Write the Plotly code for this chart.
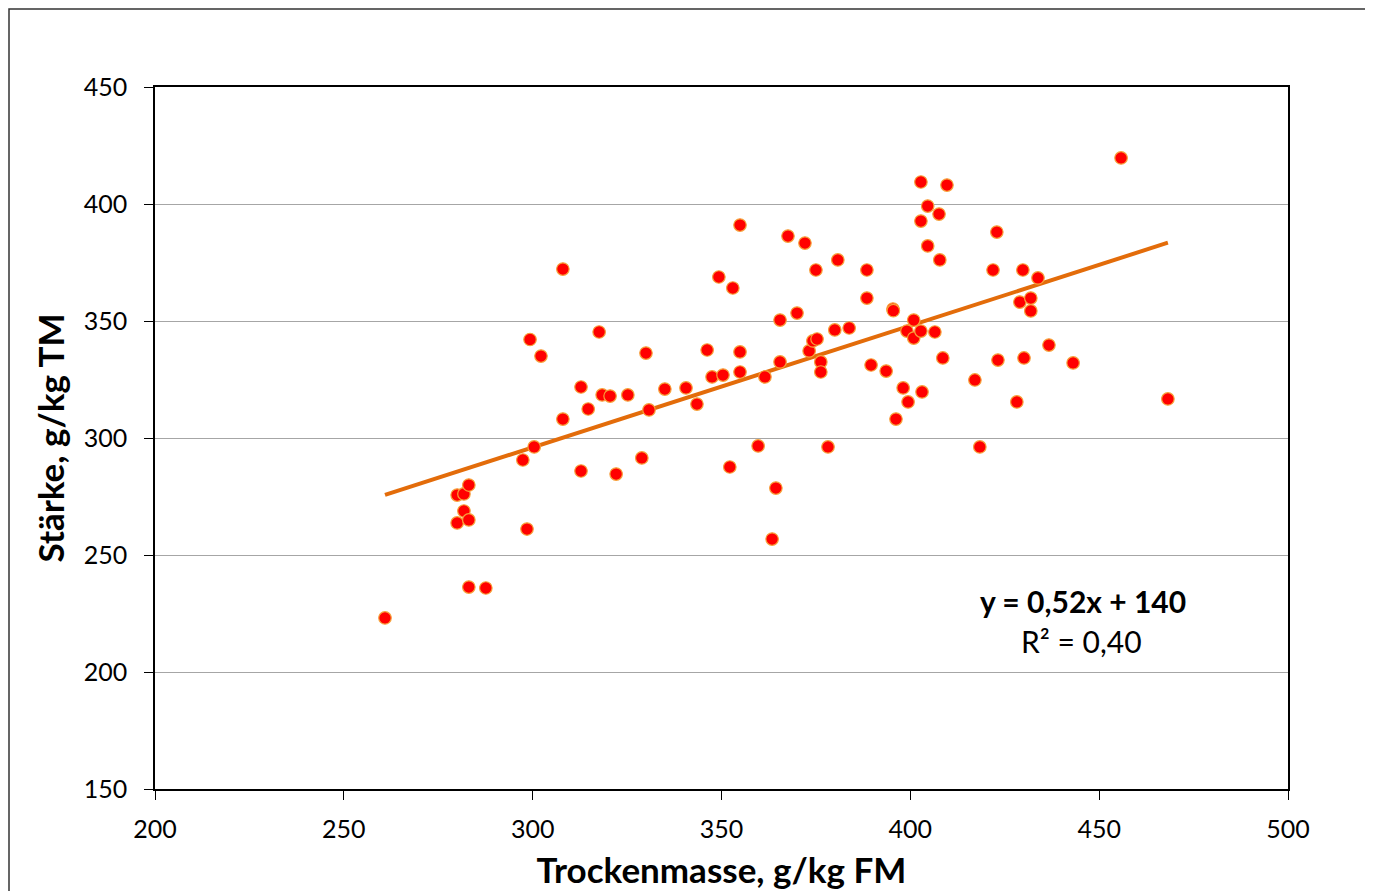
import plotly.graph_objects as go

# Trockenmasse (g/kg FM)
trockenmasse = [
    260.9, 280.0, 281.8, 283.1, 280.0, 281.8, 283.1, 283.1, 287.6, 297.4,
    298.5, 300.4, 299.3, 302.2, 308.0, 308.0, 312.8, 312.8, 314.7, 317.6,
    318.4, 320.5, 322.1, 325.2, 328.9, 330.0, 330.8, 335.0, 340.6, 343.5,
    346.2, 347.5, 349.3, 350.4, 352.2, 353.0, 354.9, 354.9, 354.9, 359.7,
    361.5, 363.4, 364.4, 365.5, 365.5, 367.6, 370.0, 372.1, 373.2, 374.2,
    375.0, 375.3, 376.3, 376.3, 378.2, 380.0, 380.8, 383.8, 388.5, 388.5,
    389.6, 393.6, 395.4, 395.5, 396.2, 398.1, 399.1, 399.4, 400.9, 400.9,
    402.8, 402.8, 402.8, 403.1, 404.6, 404.6, 406.5, 407.6, 407.8, 408.6,
    409.7, 417.1, 418.4, 421.9, 422.9, 423.2, 428.2, 429.0, 429.8, 430.1,
    431.9, 431.9, 433.8, 436.7, 443.1, 455.8, 468.2,
]
# Stärke (g/kg TM)
staerke = [
    223.1, 275.6, 276.1, 279.9, 263.7, 268.8, 265.0, 236.3, 235.9, 290.6,
    261.1, 296.2, 342.1, 335.0, 372.2, 308.1, 321.8, 285.9, 312.4, 345.3,
    318.4, 317.9, 284.6, 318.4, 291.5, 336.3, 312.0, 320.9, 321.4, 314.5,
    337.6, 326.1, 368.8, 326.9, 287.6, 364.1, 391.0, 336.8, 328.2, 296.6,
    326.1, 256.8, 278.6, 350.4, 332.5, 386.3, 353.4, 383.3, 337.2, 341.5,
    371.8, 342.3, 332.5, 328.2, 296.2, 346.2, 376.1, 347.0, 371.8, 359.8,
    331.2, 328.6, 355.1, 354.4, 308.1, 321.4, 345.7, 315.4, 350.4, 342.7,
    345.7, 409.4, 392.7, 319.7, 399.1, 382.1, 345.3, 395.7, 376.1, 334.2,
    408.1, 324.8, 296.2, 371.8, 388.0, 333.3, 315.4, 358.1, 371.8, 334.2,
    359.8, 354.3, 368.4, 339.7, 332.1, 419.7, 316.7,
]

# Linear trend (as printed on the chart)
slope = 0.52
intercept = 140.0
equation_text = "y = 0,52x + 140"
r2_text = "R² = 0,40"

x_ticks = [200, 250, 300, 350, 400, 450, 500]
y_ticks = [150, 200, 250, 300, 350, 400, 450]

font_family = "Lato, Carlito, 'Liberation Sans', sans-serif"

x_min, x_max = min(trockenmasse), max(trockenmasse)
trend_x = [x_min, x_max]
trend_y = [slope * v + intercept for v in trend_x]

fig = go.Figure()
fig.add_trace(go.Scatter(
    x=trend_x, y=trend_y, mode="lines",
    line=dict(color="#E36C0A", width=4),
    hoverinfo="skip", showlegend=False,
))
fig.add_trace(go.Scatter(
    x=trockenmasse, y=staerke, mode="markers",
    marker=dict(color="#FF0000", size=12.5, line=dict(color="#F7A13A", width=1.2)),
    showlegend=False,
))

fig.add_annotation(
    x=0.819, y=0.268, xref="paper", yref="paper", xanchor="center", yanchor="middle",
    text="<b>" + equation_text + "</b>", showarrow=False,
    font=dict(size=30, color="#000000", family=font_family),
)
fig.add_annotation(
    x=0.818, y=0.211, xref="paper", yref="paper", xanchor="center", yanchor="middle",
    text=r2_text, showarrow=False,
    font=dict(size=30, color="#000000", family=font_family),
)

# outer chart frame (page body margin of 8px -> figure starts at page pixel 8)
W, H = 1365, 883
L, R, T, B = 147, 85, 79, 102
pw, ph = W - L - R, H - T - B
fig.add_shape(type="rect", xref="paper", yref="paper",
              x0=(1 - L) / pw, x1=1.5, y0=-0.5, y1=1 + (T - 1) / ph,
              line=dict(color="#333333", width=1.5), fillcolor="rgba(0,0,0,0)",
              layer="below")

axis_common = dict(
    showline=True, linecolor="#000000", linewidth=1.5, mirror=True,
    ticks="outside", ticklen=9, tickcolor="#000000", tickwidth=1.2,
    tickfont=dict(size=25, color="#000000", family=font_family),
    zeroline=False, automargin=False,
)

fig.update_layout(
    width=W, height=H,
    margin=dict(l=L, r=R, t=T, b=B, autoexpand=False),
    paper_bgcolor="#FFFFFF", plot_bgcolor="#FFFFFF",
    font=dict(family=font_family, color="#000000"),
    xaxis=dict(
        range=[200, 500], tickvals=x_ticks, showgrid=False, ticklabelstandoff=8,
        title=dict(text="<b>Trockenmasse, g/kg FM</b>",
                   font=dict(size=35, family=font_family), standoff=17),
        **axis_common,
    ),
    yaxis=dict(
        range=[150, 450], tickvals=y_ticks, showgrid=True,
        gridcolor="#A6A6A6", gridwidth=1.2, ticklabelstandoff=12,
        title=dict(text="<b>Stärke, g/kg TM</b>",
                   font=dict(size=35, family=font_family), standoff=8),
        **axis_common,
    ),
)

fig.write_html("out.html")
